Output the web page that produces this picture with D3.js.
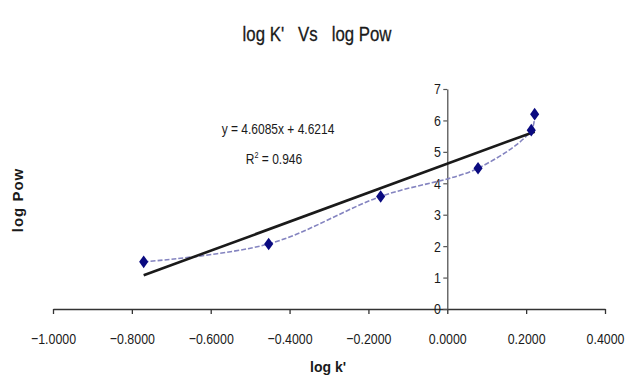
<!DOCTYPE html>
<html>
<head>
<meta charset="utf-8">
<script src="https://cdn.jsdelivr.net/npm/d3@7"></script>
<style>
  body { margin: 0; background: #fff; }
  svg text { font-family: "Liberation Sans", Arial, sans-serif; fill: #1a1a1a; }
</style>
</head>
<body>
<div id="chart"></div>
<script>
// values
const logK = [-0.770, -0.453, -0.169, 0.078, 0.213, 0.2216];
const logPow = [1.50, 2.07, 3.58, 4.48, 5.69, 6.20];
const xTicks = [-1.0, -0.8, -0.6, -0.4, -0.2, 0.0, 0.2, 0.4];
const yTicks = [0, 1, 2, 3, 4, 5, 6, 7];
const slope = 4.6085, intercept = 4.6214, r2 = "0.946";

const width = 627, height = 383;
const squeeze = 0.8; // the original uses a condensed face

const svg = d3.select('#chart').append('svg')
  .attr('width', width)
  .attr('height', height);

const x = d3.scaleLinear().domain([-1, 0.4]).range([53, 605]);
const y = d3.scaleLinear().domain([0, 7]).range([309, 89]);

// condensed text placed at (cx, cy)
function narrowText(cx, cy, size) {
  return svg.append('g')
    .attr('transform', 'translate(' + cx + ',' + cy + ') scale(' + squeeze + ',1)')
    .append('text')
    .attr('text-anchor', 'middle')
    .style('font-size', size + 'px');
}

// title
narrowText(317, 41, 21)
  .style('white-space', 'pre')
  .style('stroke', '#1a1a1a').style('stroke-width', 0.3)
  .text("log K'   Vs   log Pow");

// x axis (drawn at y = 0)
const xAxis = svg.append('g')
  .attr('transform', 'translate(0,' + y(0) + ')')
  .call(d3.axisBottom(x).tickValues(xTicks).tickSizeInner(5).tickSizeOuter(0)
    .tickPadding(19).tickFormat(d3.format('.4f')));
xAxis.select('.domain').attr('stroke', '#333').attr('stroke-width', 1.6);
xAxis.selectAll('.tick line').attr('stroke', '#333').attr('stroke-width', 1.3);
xAxis.selectAll('.tick text').style('font-size', '15.5px').attr('fill', '#1a1a1a')
  .attr('transform', 'scale(' + squeeze + ',1)');

// y axis (drawn at x = 0)
const yAxis = svg.append('g')
  .attr('transform', 'translate(' + x(0) + ',0)')
  .call(d3.axisLeft(y).tickValues(yTicks).tickSizeInner(4).tickSizeOuter(0)
    .tickPadding(4).tickFormat(d3.format('d')));
yAxis.select('.domain').attr('stroke', '#555').attr('stroke-width', 1.3);
yAxis.selectAll('.tick line').attr('stroke', '#555').attr('stroke-width', 1.2);
yAxis.selectAll('.tick text').style('font-size', '15.5px').attr('fill', '#1a1a1a')
  .attr('transform', 'scale(' + squeeze + ',1)');

// axis titles
svg.append('text')
  .attr('x', 328).attr('y', 372)
  .attr('text-anchor', 'middle')
  .style('font-weight', 'bold')
  .style('font-size', '14px')
  .text("log k'");

svg.append('text')
  .attr('transform', 'translate(23,200) rotate(-90)')
  .attr('text-anchor', 'middle')
  .style('font-weight', 'bold')
  .style('font-size', '15px')
  .style('letter-spacing', '1px')
  .text('log Pow');

const pts = logK.map((d, i) => [d, logPow[i]]);

// smoothed data line
const line = d3.line()
  .x(d => x(d[0]))
  .y(d => y(d[1]))
  .curve(d3.curveCatmullRom.alpha(0.5));

svg.append('path')
  .datum(pts)
  .attr('fill', 'none')
  .attr('stroke', '#8484c0')
  .attr('stroke-width', 1.6)
  .attr('stroke-dasharray', '5,2')
  .attr('d', line);

// linear trendline
const xMin = d3.min(logK), xMax = d3.max(logK);
svg.append('line')
  .attr('x1', x(xMin)).attr('y1', y(slope * xMin + intercept))
  .attr('x2', x(xMax)).attr('y2', y(slope * xMax + intercept))
  .attr('stroke', '#1a1a1a')
  .attr('stroke-width', 2.6);

// diamond markers
svg.append('g').selectAll('path')
  .data(pts)
  .enter().append('path')
  .attr('transform', d => 'translate(' + x(d[0]) + ',' + y(d[1]) + ') scale(1.25,1)')
  .attr('d', d3.symbol().type(d3.symbolDiamond).size(46))
  .attr('fill', '#0a0a80');

// equation label
narrowText(278, 134, 15)
  .text('y = ' + slope + 'x + ' + intercept);

const r2Text = narrowText(274, 164, 15);
r2Text.append('tspan').text('R');
r2Text.append('tspan').attr('dy', -6).style('font-size', '9px').text('2');
r2Text.append('tspan').attr('dy', 6).text(' = ' + r2);
</script>
</body>
</html>
